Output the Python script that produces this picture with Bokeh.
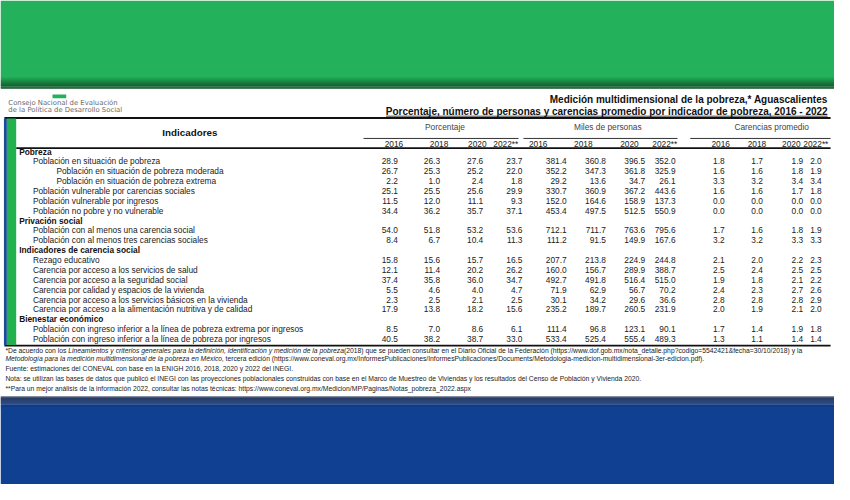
import unicodedata
from bokeh.plotting import figure
from bokeh.models import Range1d, ColumnDataSource
from bokeh.embed import file_html
from bokeh.resources import INLINE
from bokeh.core.properties import value

# ---------------- data ----------------
labels = [
    "Pobreza",
    "Población en situación de pobreza",
    "Población en situación de pobreza moderada",
    "Población en situación de pobreza extrema",
    "Población vulnerable por carencias sociales",
    "Población vulnerable por ingresos",
    "Población no pobre y no vulnerable",
    "Privación social",
    "Población con al menos una carencia social",
    "Población con al menos tres carencias sociales",
    "Indicadores de carencia social",
    "Rezago educativo",
    "Carencia por acceso a los servicios de salud",
    "Carencia por acceso a la seguridad social",
    "Carencia por calidad y espacios de la vivienda",
    "Carencia por acceso a los servicios básicos en la vivienda",
    "Carencia por acceso a la alimentación nutritiva y de calidad",
    "Bienestar económico",
    "Población con ingreso inferior a la línea de pobreza extrema por ingresos",
    "Población con ingreso inferior a la línea de pobreza por ingresos",
]
levels = [0, 1, 2, 2, 1, 1, 1, 0, 1, 1, 0, 1, 1, 1, 1, 1, 1, 0, 1, 1]

years = ["2016", "2018", "2020", "2022**"]
groups = ["Porcentaje", "Miles de personas", "Carencias promedio"]

pct_2016 = [None, 28.9, 26.7, 2.2, 25.1, 11.5, 34.4, None, 54.0, 8.4, None, 15.8, 12.1, 37.4, 5.5, 2.3, 17.9, None, 8.5, 40.5]
pct_2018 = [None, 26.3, 25.3, 1.0, 25.5, 12.0, 36.2, None, 51.8, 6.7, None, 15.6, 11.4, 35.8, 4.6, 2.5, 13.8, None, 7.0, 38.2]
pct_2020 = [None, 27.6, 25.2, 2.4, 25.6, 11.1, 35.7, None, 53.2, 10.4, None, 15.7, 20.2, 36.0, 4.0, 2.1, 18.2, None, 8.6, 38.7]
pct_2022 = [None, 23.7, 22.0, 1.8, 29.9, 9.3, 37.1, None, 53.6, 11.3, None, 16.5, 26.2, 34.7, 4.7, 2.5, 15.6, None, 6.1, 33.0]
miles_2016 = [None, 381.4, 352.2, 29.2, 330.7, 152.0, 453.4, None, 712.1, 111.2, None, 207.7, 160.0, 492.7, 71.9, 30.1, 235.2, None, 111.4, 533.4]
miles_2018 = [None, 360.8, 347.3, 13.6, 360.9, 164.6, 497.5, None, 711.7, 91.5, None, 213.8, 156.7, 491.8, 62.9, 34.2, 189.7, None, 96.8, 525.4]
miles_2020 = [None, 396.5, 361.8, 34.7, 367.2, 158.9, 512.5, None, 763.6, 149.9, None, 224.9, 289.9, 516.4, 56.7, 29.6, 260.5, None, 123.1, 555.4]
miles_2022 = [None, 352.0, 325.9, 26.1, 443.6, 137.3, 550.9, None, 795.6, 167.6, None, 244.8, 388.7, 515.0, 70.2, 36.6, 231.9, None, 90.1, 489.3]
car_2016 = [None, 1.8, 1.6, 3.3, 1.6, 0.0, 0.0, None, 1.7, 3.2, None, 2.1, 2.5, 1.9, 2.4, 2.8, 2.0, None, 1.7, 1.3]
car_2018 = [None, 1.7, 1.6, 3.2, 1.6, 0.0, 0.0, None, 1.6, 3.2, None, 2.0, 2.4, 1.8, 2.3, 2.8, 1.9, None, 1.4, 1.1]
car_2020 = [None, 1.9, 1.8, 3.4, 1.7, 0.0, 0.0, None, 1.8, 3.3, None, 2.2, 2.5, 2.1, 2.7, 2.8, 2.1, None, 1.9, 1.4]
car_2022 = [None, 2.0, 1.9, 3.4, 1.8, 0.0, 0.0, None, 1.9, 3.3, None, 2.3, 2.5, 2.2, 2.6, 2.9, 2.0, None, 1.8, 1.4]

title1 = "Medición multidimensional de la pobreza,* Aguascalientes"
title2 = "Porcentaje, número de personas y carencias promedio por indicador de pobreza, 2016 - 2022"
logo1 = "Consejo Nacional de Evaluación"
logo2 = "de la Política de Desarrollo Social"

note1 = [("*De acuerdo con los ", "normal"),
         ("Lineamientos y criterios generales para la definición, identificación y medición de la pobreza", "italic"),
         (" (2018) que se pueden consultar en el Diario Oficial de la Federación (https://www.dof.gob.mx/nota_detalle.php?codigo=5542421&fecha=30/10/2018) y la", "normal")]
note2 = [("Metodología para la medición multidimensional de la pobreza en México", "italic"),
         (" , tercera edición (https://www.coneval.org.mx/InformesPublicaciones/InformesPublicaciones/Documents/Metodologia-medicion-multidimensional-3er-edicion.pdf).", "normal")]
note3 = "Fuente: estimaciones del CONEVAL con base en la ENIGH 2016, 2018, 2020 y 2022 del INEGI."
note4 = "Nota: se utilizan las bases de datos que publicó el INEGI con las proyecciones poblacionales construidas con base en el Marco de Muestreo de Viviendas y los resultados del Censo de Población y Vivienda 2020."
note5 = "**Para un mejor análisis de la información 2022, consultar las notas técnicas: https://www.coneval.org.mx/Medicion/MP/Paginas/Notas_pobreza_2022.aspx"

# ---------------- font metrics (Arial / Liberation Sans advance widths, 1/1000 em) ----------------
_W = {' ': 278, '!': 278, '"': 355, '#': 556, '$': 556, '%': 889, '&': 667, "'": 191, '(': 333, ')': 333,
      '*': 389, '+': 584, ',': 278, '-': 333, '.': 278, '/': 278, ':': 278, ';': 278, '<': 584, '=': 584,
      '>': 584, '?': 556, '@': 1015, '[': 278, '\\': 278, ']': 278, '_': 556,
      'A': 667, 'B': 667, 'C': 722, 'D': 722, 'E': 667, 'F': 611, 'G': 778, 'H': 722, 'I': 278, 'J': 500,
      'K': 667, 'L': 556, 'M': 833, 'N': 722, 'O': 778, 'P': 667, 'Q': 778, 'R': 722, 'S': 667, 'T': 611,
      'U': 722, 'V': 667, 'W': 944, 'X': 667, 'Y': 667, 'Z': 611,
      'a': 556, 'b': 556, 'c': 500, 'd': 556, 'e': 556, 'f': 278, 'g': 556, 'h': 556, 'i': 222, 'j': 222,
      'k': 500, 'l': 222, 'm': 833, 'n': 556, 'o': 556, 'p': 556, 'q': 556, 'r': 333, 's': 500, 't': 278,
      'u': 556, 'v': 500, 'w': 722, 'x': 500, 'y': 500, 'z': 500}
def text_width(t, size):
    tot = 0
    for ch in t:
        if ch.isdigit():
            tot += 556
            continue
        base = unicodedata.normalize("NFD", ch)[0]
        tot += _W.get(base, 556)
    return tot / 1000.0 * size

# ---------------- layout ----------------
S = 834 / 850.0
def fs(px):
    return "%.2fpx" % (px * S)

FONT = "Liberation Sans"
p = figure(width=834, height=484, x_range=Range1d(0, 850), y_range=Range1d(500, 0),
           output_backend="svg", toolbar_location=None, min_border=0,
           background_fill_color="white", border_fill_color="white")
p.axis.visible = False
p.grid.visible = False
p.outline_line_color = None

# background bands
p.quad(left=0, right=850, top=0, bottom=78, fill_color="#23B25B", line_color=None)
g0, g1 = (35, 178, 91), (14, 80, 38)
for k in range(13):
    t = k / 12
    c = tuple(int(g0[j] + (g1[j] - g0[j]) * t) for j in range(3))
    p.quad(left=0, right=850, top=78 + k, bottom=79.2 + k, fill_color="#%02x%02x%02x" % c, line_color=None)
b0, b1 = (10, 28, 66), (15, 64, 146)
for k in range(12):
    t = k / 11
    c = tuple(int(b0[j] + (b1[j] - b0[j]) * t) for j in range(3))
    p.quad(left=0, right=850, top=409 + k, bottom=410.2 + k, fill_color="#%02x%02x%02x" % c, line_color=None)
p.quad(left=0, right=850, top=421, bottom=500, fill_color="#0F4092", line_color=None)

# logo
p.quad(left=53, right=67, top=97, bottom=101, fill_color="#23B25B", line_color=None)
p.text(x=[8, 8], y=[105.5, 113], text=[logo1, logo2], text_font=value("DejaVu Sans"),
       text_font_size=fs(7.0), text_color="#6a6a6a", text_baseline="middle")

# titles
p.text(x=[843, 843], y=[102.5, 115], text=[title1, title2], text_font=value(FONT),
       text_font_size=fs(10.2), text_font_style="bold", text_color="#111111",
       text_align="right", text_baseline="middle")
p.segment(x0=393, x1=843, y0=119.5, y1=119.5, line_color="#111111", line_width=0.8)

# rules
p.segment(x0=4, x1=846, y0=121.5, y1=121.5, line_color="#111111", line_width=2)
p.segment(x0=16, x1=846, y0=152.5, y1=152.5, line_color="#111111", line_width=1.6)
p.segment(x0=4, x1=846, y0=356.5, y1=356.5, line_color="#111111", line_width=1.6)
for (a, b) in [(370, 528), (533, 690), (703, 846)]:
    p.segment(x0=a, x1=b, y0=142.5, y1=142.5, line_color="#333333", line_width=1)

# left vertical bars
p.quad(left=3.5, right=6.5, top=122, bottom=356, fill_color="#1B4C9C", line_color=None)
p.quad(left=6.5, right=16, top=122, bottom=356, fill_color="#22B14F", line_color=None)

# header texts
p.text(x=[193], y=[136], text=["Indicadores"], text_font=value(FONT), text_font_size=fs(10),
       text_font_style="bold", text_color="#111111", text_align="center", text_baseline="middle")
p.text(x=[453, 619, 786], y=[130.5] * 3, text=groups, text_font=value(FONT), text_font_size=fs(8.5),
       text_color="#444444", text_align="center", text_baseline="middle")
yr_centers = [401, 447, 486, 515, 548, 594, 641, 677, 734, 771, 806, 831]
p.text(x=yr_centers, y=[148] * 12, text=years * 3, text_font=value(FONT), text_font_size=fs(8.5),
       text_color="#222222", text_align="center", text_baseline="middle")

# rows
y0, dy = 156.0, 10.2
ys = [y0 + i * dy for i in range(len(labels))]
xs = [19 + 14 * lv + (10 if lv == 2 else 0) for lv in levels]
sec = [i for i, lv in enumerate(levels) if lv == 0]
sub = [i for i, lv in enumerate(levels) if lv > 0]
p.text(x=[xs[i] for i in sec], y=[ys[i] for i in sec], text=[labels[i] for i in sec],
       text_font=value(FONT), text_font_size=fs(8.5), text_font_style="bold",
       text_color="#111111", text_baseline="middle")
p.text(x=[xs[i] for i in sub], y=[ys[i] for i in sub], text=[labels[i] for i in sub],
       text_font=value(FONT), text_font_size=fs(8.5), text_color="#222222", text_baseline="middle")

cols = [pct_2016, pct_2018, pct_2020, pct_2022, miles_2016, miles_2018, miles_2020, miles_2022,
        car_2016, car_2018, car_2020, car_2022]
right_edges = [405, 448, 492, 532, 577, 617, 657, 688, 738, 777, 818, 837]
for col, xr in zip(cols, right_edges):
    vy = [ys[i] for i, v in enumerate(col) if v is not None]
    vt = ["%.1f" % v for v in col if v is not None]
    src = ColumnDataSource(dict(x=[xr] * len(vt), y=vy, t=vt))
    p.text(x="x", y="y", text="t", source=src, text_font=value(FONT), text_font_size=fs(8.5),
           text_color="#222222", text_align="right", text_baseline="middle")

# footnotes
def note_line(parts, x, y, size):
    for t, style in parts:
        p.text(x=[x], y=[y], text=[t], text_font=value(FONT), text_font_size=fs(size),
               text_font_style=style, text_color="#222222", text_baseline="middle")
        x += text_width(t, size)

note_line(note1, 5, 362, 6.9)
note_line(note2, 5, 370, 6.9)
note_line([(note3, "normal")], 5, 380.5, 6.9)
note_line([(note4, "normal")], 5, 391, 6.9)
note_line([(note5, "normal")], 5, 400.5, 6.9)

open("out.html", "w").write(file_html(p, INLINE))
